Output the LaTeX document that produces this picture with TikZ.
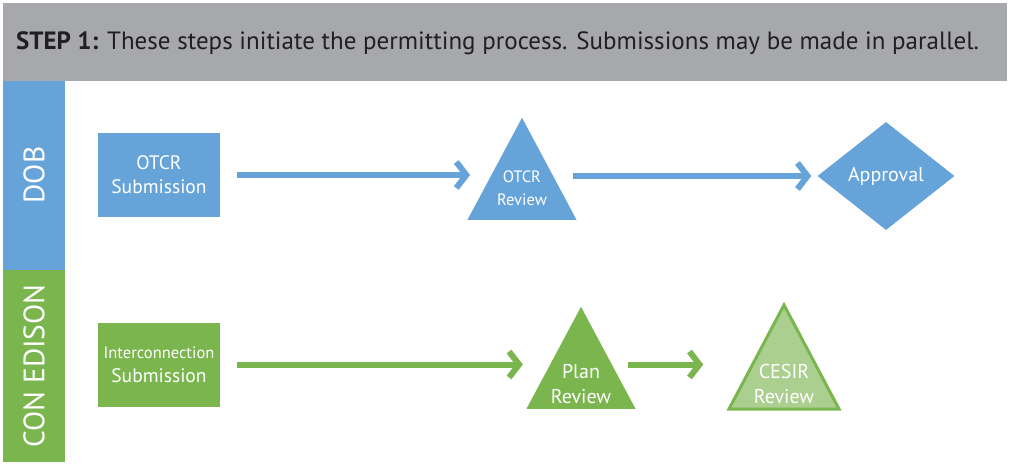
\documentclass[tikz,border=0pt]{standalone}
\usepackage{fontspec}
\setmainfont{PT Sans}
\usetikzlibrary{arrows.meta}
\usetikzlibrary{shapes.geometric}

\definecolor{dobblue}{RGB}{102,163,216}
\definecolor{cegreen}{RGB}{122,181,78}
\definecolor{celight}{RGB}{170,207,143}
\definecolor{headgrey}{RGB}{167,168,172}
\definecolor{headtext}{RGB}{35,31,32}

\begin{document}
\begin{tikzpicture}[x=1pt, y=-1pt,
    box/.style={rectangle, minimum width=122pt, minimum height=84pt, inner sep=0pt, text=white, align=center, font=\fontsize{19.5}{24}\selectfont},
    tri/.style={isosceles triangle, shape border rotate=90, isosceles triangle stretches, inner sep=0pt, minimum width=109pt, minimum height=102pt, anchor=lower side},
    flow/.style={line width=6pt, -{Straight Barb[length=10pt, width=26pt]}},
    lane/.style={rotate=90, text=white, font=\fontsize{29.5}{30}\selectfont},
    inlabel/.style={text=white, align=center, inner sep=0pt}]

      \fill[white] (0,0) rectangle (1009,465);
      \useasboundingbox (0,0) rectangle (1009,465);

      % header
      \fill[headgrey] (3,3) rectangle (1007,81);
      \node[anchor=west, text=headtext, inner sep=0pt, font=\fontsize{25}{28}\selectfont] (head) at (16,43) {\textbf{STEP 1:} These steps initiate the permitting process. Submissions may be made in parallel.};

      % lanes
      \fill[dobblue] (3,81) rectangle (65,270);
      \fill[cegreen] (3,270) rectangle (65,462);
      \node[lane] (dob) at (34,175) {DOB};
      \node[lane] (coned) at (34,366) {CON EDISON};

      % DOB
      \node[box, fill=dobblue] (otcrsub) at (159,175) {OTCR\\Submission};
      \node[tri, fill=dobblue] (otcrrev) at (522,220) {};
      \node[inlabel, font=\fontsize{16.5}{23}\selectfont] (otcrrevtext) at (522,188) {OTCR\\Review};
      \node[diamond, fill=dobblue, minimum width=137pt, minimum height=108pt, inner sep=0pt, text=white, font=\fontsize{20}{22}\selectfont] (approval) at (886,176) {Approval};

      \draw[flow, dobblue, shorten <=17pt, shorten >=24.5pt] (otcrsub.east) -- (otcrsub.east -| otcrrev.left side);
      \draw[flow, dobblue, shorten <=23.5pt, shorten >=6pt] (otcrrev.right side |- approval.west) -- (approval.west);

      % Con Edison
      \node[box, fill=cegreen] (icsub) at (159,364.5) {{\fontsize{16.5}{24}\selectfont Interconnection}\\Submission};
      \node[tri, fill=cegreen] (planrev) at (581,409) {};
      \node[inlabel, font=\fontsize{20}{25}\selectfont] (planrevtext) at (581,384) {Plan\\Review};
      \node[tri, fill=celight, draw=cegreen, line width=3pt, minimum width=110pt, minimum height=104pt] (cesir) at (784,410.5) {};
      \node[inlabel, font=\fontsize{20}{25}\selectfont] (cesirtext) at (784,384) {CESIR\\Review};

      \draw[flow, cegreen, shorten <=17pt, shorten >=30.75pt] (icsub.east) -- (icsub.east -| planrev.left side);
      \draw[flow, cegreen, shorten <=20pt, shorten >=52pt] (planrev.right side |- icsub.east) -- (icsub.east -| cesir.left side);
    \end{tikzpicture}
\end{document}
